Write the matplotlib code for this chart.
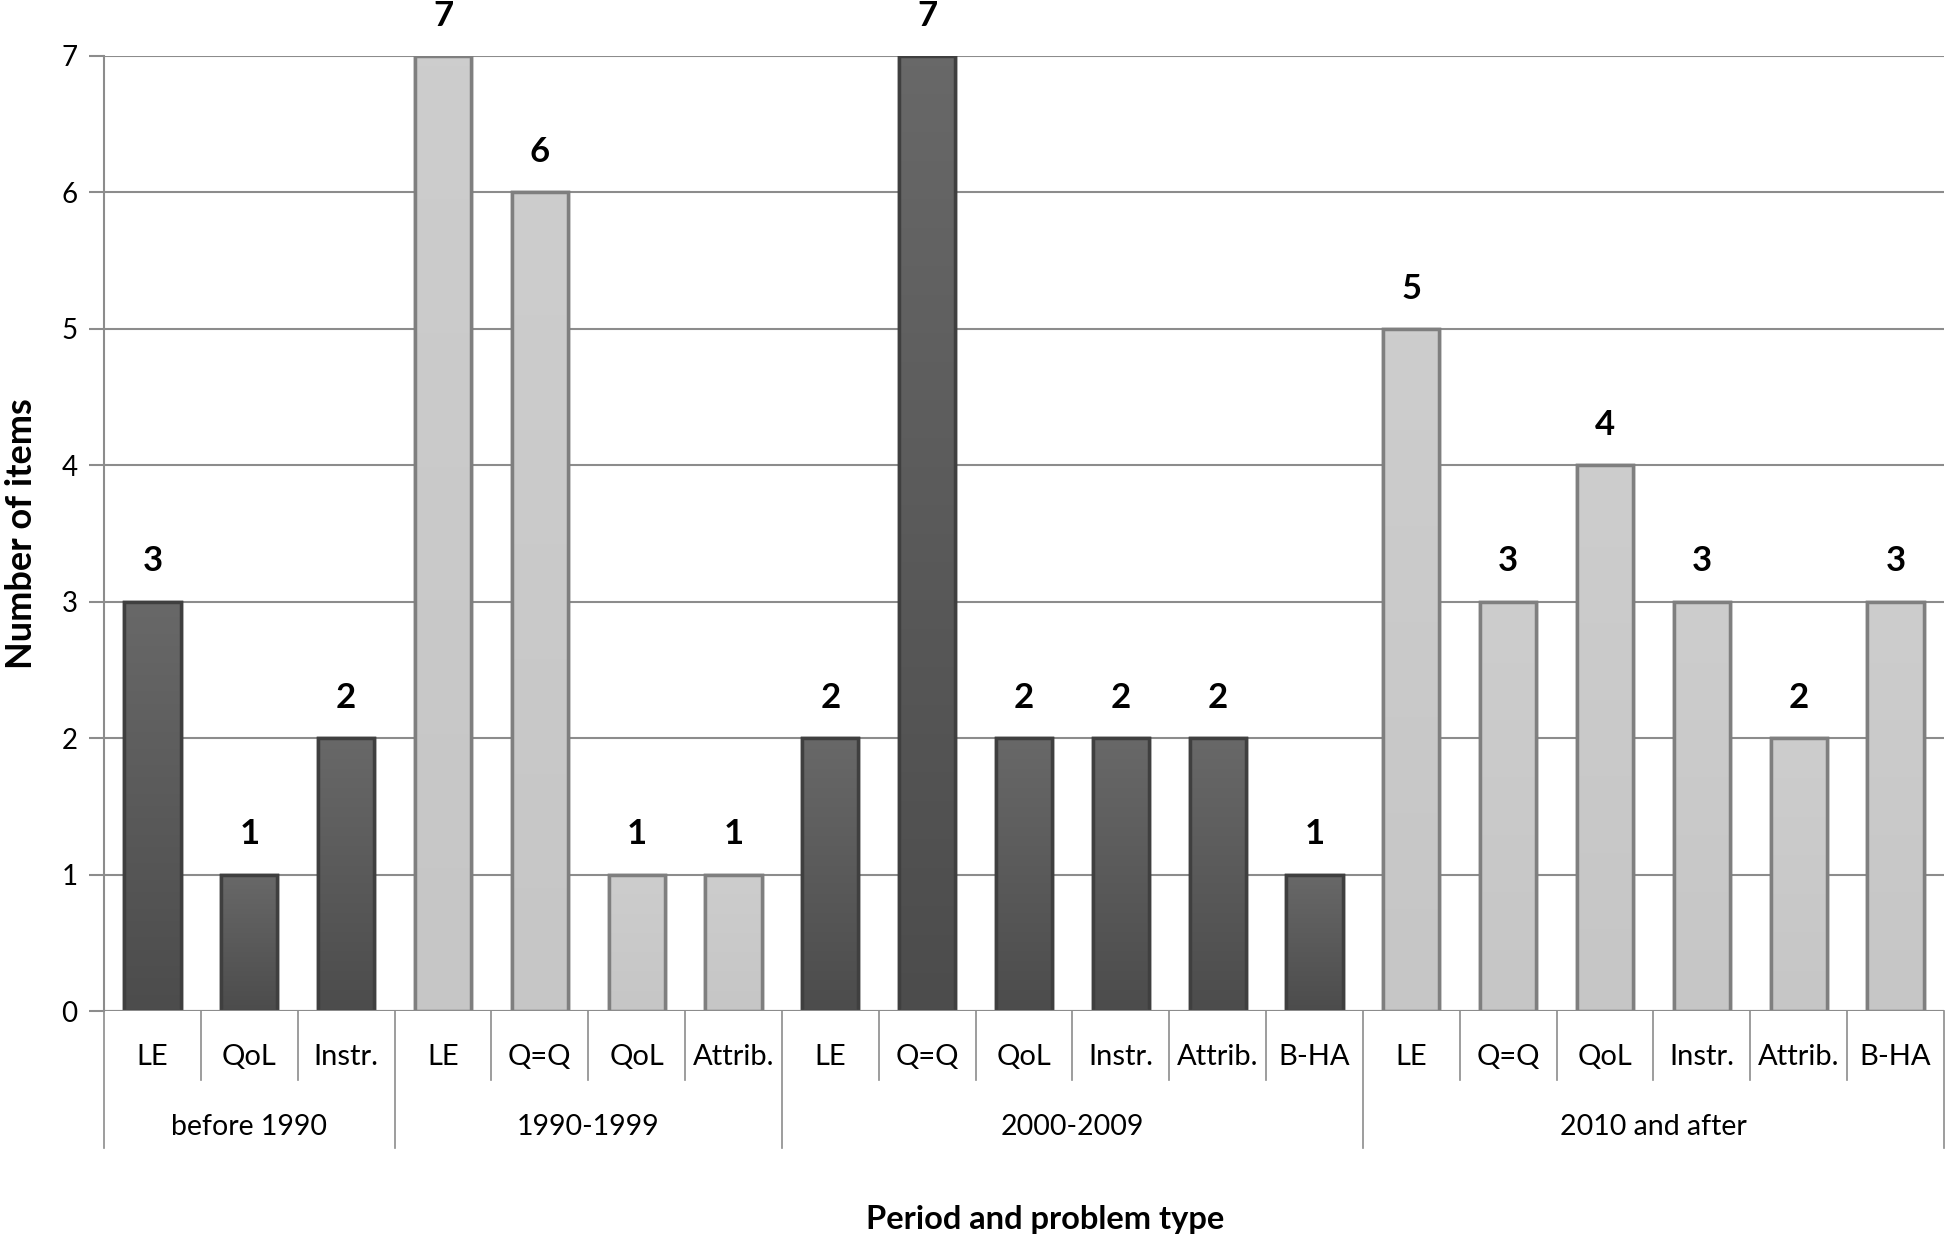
import numpy as np
import matplotlib.pyplot as plt
from matplotlib.colors import LinearSegmentedColormap
from matplotlib.transforms import blended_transform_factory

plt.rcParams['font.family'] = ['Lato', 'DejaVu Sans']

periods = ["before 1990", "1990-1999", "2000-2009", "2010 and after"]
problems = [
    ["LE", "QoL", "Instr."],
    ["LE", "Q=Q", "QoL", "Attrib."],
    ["LE", "Q=Q", "QoL", "Instr.", "Attrib.", "B-HA"],
    ["LE", "Q=Q", "QoL", "Instr.", "Attrib.", "B-HA"],
]
counts = [
    [3, 1, 2],
    [7, 6, 1, 1],
    [2, 7, 2, 2, 2, 1],
    [5, 3, 4, 3, 2, 3],
]
# top / bottom shade of each period's bars, and edge colour
tops = ["#686868", "#cdcdcd", "#686868", "#cdcdcd"]
bottoms = ["#4c4c4c", "#c6c6c6", "#4c4c4c", "#c6c6c6"]
edges = ["#3f3f3f", "#7f7f7f", "#3f3f3f", "#7f7f7f"]

fig = plt.figure(figsize=(19.46, 12.39), dpi=100)
ax = fig.add_axes([104 / 1946, 1 - 1011 / 1239, 1840 / 1946, 955 / 1239])

grid_c = "#8c8c8c"
ax.yaxis.grid(True, color=grid_c, linewidth=1.5)
ax.set_axisbelow(True)
for s in ["top", "right", "bottom"]:
    ax.spines[s].set_visible(False)
ax.spines["left"].set_color(grid_c)
ax.spines["left"].set_linewidth(1.5)
ax.tick_params(axis="y", length=11, width=1.5, color=grid_c, labelsize=20, pad=8)
ax.tick_params(axis="x", length=0, labelsize=21, pad=24)

trans = blended_transform_factory(ax.transData, ax.transAxes)
labels = []
x0 = 0
grad = np.linspace(0, 1, 100).reshape(-1, 1)
for g, (per, probs, vals) in enumerate(zip(periods, problems, counts)):
    xs = np.arange(x0, x0 + len(vals))
    bars = ax.bar(xs, vals, width=0.58, color=tops[g], edgecolor=edges[g],
                  linewidth=2.5, zorder=3)
    cmap = LinearSegmentedColormap.from_list("b%d" % g, [bottoms[g], tops[g]])
    for b in bars:
        im = ax.imshow(grad, cmap=cmap, aspect="auto", origin="lower", zorder=3.5,
                       extent=[b.get_x(), b.get_x() + b.get_width(), 0, b.get_height()])
        im.set_clip_path(b)
        ax.bar(b.get_x() + b.get_width() / 2, b.get_height(), width=b.get_width(),
               color="none", edgecolor=edges[g], linewidth=2.5, zorder=3.6)
    for x, v in zip(xs, vals):
        ax.annotate(str(v), (x, v), xytext=(0, 29), textcoords="offset points",
                    ha="center", va="center", fontsize=25, fontweight="bold",
                    annotation_clip=False)
    labels += probs
    # separators between problem types
    for b in xs[1:]:
        ax.plot([b - 0.5, b - 0.5], [0, -0.072], transform=trans, color=grid_c,
                linewidth=1.2, clip_on=False)
    # separators between periods
    ax.plot([x0 - 0.5, x0 - 0.5], [0, -0.1435], transform=trans, color=grid_c,
            linewidth=1.2, clip_on=False)
    ax.text((xs[0] + xs[-1]) / 2, -0.1215, per, transform=trans, ha="center",
            va="center", fontsize=20.5)
    x0 += len(vals)
ax.plot([x0 - 0.5, x0 - 0.5], [0, -0.1435], transform=trans, color=grid_c,
        linewidth=1.2, clip_on=False)
ax.axhline(0, color=grid_c, linewidth=1.5, zorder=4)

ax.set_xlim(-0.5, x0 - 0.5)
ax.set_ylim(0, 7)
ax.set_yticks(range(8))
ax.set_xticks(np.arange(x0))
ax.set_xticklabels(labels)

fig.text(1045 / 1946, 1 - 1219 / 1239, "Period and problem type",
         ha="center", va="center", fontsize=23.5, fontweight="bold")
ax.text(-0.0446, 0.5, "Number of items", transform=ax.transAxes, rotation=90,
        ha="center", va="center", fontsize=26, fontweight="bold")

fig.savefig("out.png", dpi=100)
